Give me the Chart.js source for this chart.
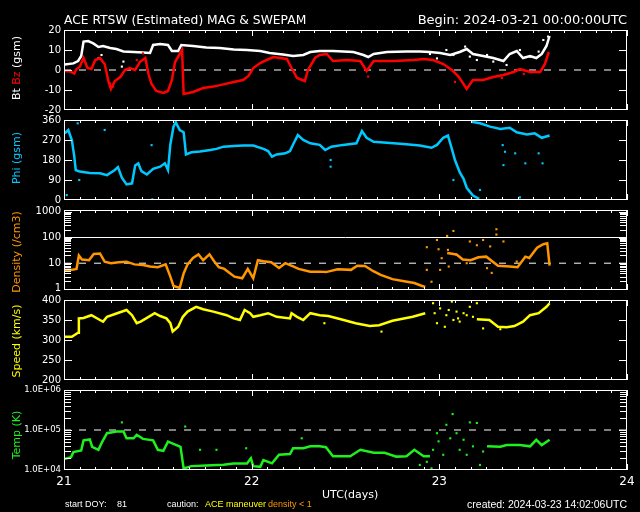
<!DOCTYPE html>
<html>
<head>
<meta charset="utf-8">
<script src="https://cdn.jsdelivr.net/npm/chart.js"></script>
<style>
  body { margin: 0; background: #000; width: 640px; height: 512px; overflow: hidden; position: relative;
         font-family: 'DejaVu Sans', sans-serif; color: #fff; }
  canvas { position: absolute; left: 0; }
  .t { position: absolute; white-space: nowrap; line-height: 0; }
  .yl { position: absolute; left: 16px; line-height: 1; font-size: 11px; white-space: nowrap;
        transform: translate(-50%, -50%) rotate(-90deg); }
  .ft { font-family: 'Liberation Sans', sans-serif; font-size: 9px; }
</style>
</head>
<body>
<canvas id="p1" width="640" height="100" style="top:20px"></canvas>
<canvas id="p2" width="640" height="100" style="top:110px"></canvas>
<canvas id="p3" width="640" height="100" style="top:200px"></canvas>
<canvas id="p4" width="640" height="100" style="top:290px"></canvas>
<canvas id="p5" width="640" height="132" style="top:380px"></canvas>

<div class="t" style="left:64px;top:20px;font-size:12.3px">ACE RTSW (Estimated) MAG &amp; SWEPAM</div>
<div class="t" style="right:13px;top:20px;font-size:13px">Begin: 2024-03-21 00:00:00UTC</div>

<div class="yl" style="top:68px">Bt <span style="color:#ff0000">Bz</span> (gsm)</div>
<div class="yl" style="top:158px;color:#00c8ff">Phi (gsm)</div>
<div class="yl" style="top:252px;color:#ff9600">Density (/cm3)</div>
<div class="yl" style="top:341px;color:#ffff00">Speed (km/s)</div>
<div class="yl" style="top:435px;color:#1ef01e">Temp (K)</div>

<div class="t" style="left:322px;top:495px;font-size:11px">UTC(days)</div>
<div class="t ft" style="left:65px;top:504px">start DOY:</div>
<div class="t ft" style="left:117px;top:504px">81</div>
<div class="t ft" style="left:167px;top:504px">caution:</div>
<div class="t ft" style="left:205px;top:504px;color:#ffff00">ACE maneuver</div>
<div class="t ft" style="left:268px;top:504px;color:#ff9600">density &lt; 1</div>
<div class="t ft" style="right:13px;top:504px;font-size:10.5px">created: 2024-03-23 14:02:06UTC</div>

<script>
// time axis in hours after 2024-03-21 00:00 UTC (DOY 81)
const DAY_TICKS = [0, 24, 48, 72];

// ── Bt / Bz (nT) ───────────────────────────────────────────────────────────
const BT_T = [0.1,1.2,1.8,2.2,2.5,3.1,3.75,4.4,5.0,5.9,6.7,7.6,8.9,10.1,11.0,11.4,12.3,13.3,13.8,14.6,15.0,16.5,18.2,19.9,21.7,23.4,25.1,26.3,28.0,29.3,30.6,31.5,32.7,34.4,37.0,38.3,38.9,39.6,41.3,43.8,45.5,46.8,48.1,49.4,50.6,51.5,52.3,53.6,54.9,56.2,57.0,57.9,58.7,59.6,60.4,61.1,61.7,62.1];
const BT_V = [2.8,3.3,4.5,7,14.2,14.5,13.3,11.5,12,11,10.5,9.3,9,8.8,8.5,12.5,13,12.5,9.5,9.5,12.5,12,11.2,11,10.2,10,9.5,8.5,7.8,7,7.5,9,9.5,9.5,9,7.5,6.5,8,9,9.3,9.3,9,8.5,7.5,9,10.5,8,7,6,4.5,8,9.5,6,7,6,8,12,17];
const BT_XT = [4.4,4.8,7.4,7.6,46.8,47.7,48.9,49.8,51.3,51.9,52.8,54.1,54.9,56.6,58.3,59.6,60.7,61.3,61.9];
const BT_XV = [5.8,7.5,1.7,4.2,8,5.8,10,7.5,11.7,6.7,5,7.5,4.2,2.5,10,6.7,9.2,15,16.7];

const BZ_T = [0.1,0.8,1.3,1.6,2.0,2.5,3.0,3.5,4.0,4.6,5.2,5.7,6.0,6.5,7.2,7.8,8.4,9.1,9.7,10.4,10.8,11.2,11.8,12.7,13.3,13.8,14.2,14.8,15.1,15.3,16.5,17.8,19.1,20.4,21.7,22.9,23.6,24.2,25.1,25.9,26.8,27.6,28.5,29.1,29.8,30.8,31.2,32.1,32.7,33.6,34.4,36.2,37.9,38.7,39.6,42.1,44.7,46.0,47.2,48.5,49.6,50.4,51.1,51.5,52.3,53.6,54.9,56.2,57.5,58.3,59.6,60.9,61.5,62.0];
const BZ_V = [-0.5,-0.7,-1.8,0.5,1.5,6,1,0.5,5,6,3,-6,-9.5,-5.5,-3.5,0,1,0,4,6,-2,-7,-10.5,-11.5,-10.5,-5,4,8,10,-12,-11,-9,-8.3,-7.2,-6,-5,-3,1,3.5,5,6.5,6,5.5,1,-4,-5.5,0,6,7.5,8,4.5,5,4.5,-0.5,4.5,4.5,5,5.5,5,3,0,-3,-7,-9.5,-5,-5,-3.5,-2.5,-1,0.5,-1,-1,3,9];
const BZ_XT = [4.6,5.9,6.3,9.3,10.1,15.2,15.2,38.9,50.0,56.0,58.8];
const BZ_XV = [5.8,-6.7,-8.3,5,8.3,1.7,-3.3,-3.3,-6,-4,-2];

// ── Phi (deg) ──────────────────────────────────────────────────────────────
const PHI_T = [0.1,0.55,1.0,1.3,1.5,2.0,3.3,4.6,5.5,6.5,6.9,7.4,8.0,8.7,9.1,9.5,9.9,10.6,11.4,12.3,12.9,13.3,13.6,14.0,14.3,14.8,15.3,15.6,16.3,17.4,18.7,19.5,20.4,21.7,22.9,24.2,25.5,26.1,26.6,27.2,28.3,28.9,29.3,29.9,30.6,31.5,32.7,33.4,34.2,35.7,37.4,38.1,38.7,39.6,41.3,43.4,45.5,47.0,47.7,48.5,49.1,49.6,50.0,50.6,51.1,51.5,52.3,53.1,53.1,52.1,53.2,54.5,55.8,57.0,57.9,59.2,60.2,61.1,62.1];
const PHI_V = [300,315,270,200,135,128,122,120,112,135,148,100,70,75,155,165,130,115,140,150,165,135,250,330,350,315,305,205,215,218,225,230,240,243,245,245,230,220,195,205,210,220,250,292,270,255,248,225,240,248,255,310,280,262,258,252,245,235,248,280,290,230,180,125,95,55,20,5,null,352,345,330,320,325,305,295,300,280,290];
const PHI_XT = [1.75,5.2,11.2,11.3,0.35,1.95,34.1,34.1,49.8,53.2,56.2,56.4,57.7,59.0,58.3,60.7,61.2,56.1];
const PHI_XV = [345,315,247,3,22,90,180,150,90,45,157,217,210,165,12,210,165,247];

// ── Density (/cm3) ─────────────────────────────────────────────────────────
const DEN_T = [0.1,1.0,1.6,1.9,2.3,3.2,3.8,4.6,5.2,6.0,7.0,8.0,9.0,10.1,11.0,12.0,13.0,13.6,14.0,14.8,15.3,15.8,16.5,17.2,17.8,18.6,19.2,19.8,20.5,21.8,22.8,23.5,24.2,24.8,25.5,26.5,27.5,28.3,29.3,30.0,31.5,32.7,33.5,35.0,36.7,37.5,38.5,39.5,40.5,42.0,43.5,44.8,45.8,46.2,47,49.0,50.2,51.0,52.0,53.0,54.0,55.5,57.0,58.0,59.0,59.5,60.5,61.3,61.8,62.1];
const DEN_V = [5.5,5.5,6,20,14,13,23,24,11.5,10,11,11.5,9,8.5,7.5,7,9,3,1.3,1.1,4,9,16,22,13,22,12,7,6,3,2.6,6,2.6,13,12,11,6.5,10,7.5,6,4.7,4.7,4.5,5.8,5.5,8,7.8,5,3.5,2.4,2,1.7,1.3,1.2,null,25,22,14,13,17,18,8,7.5,7,18,16,40,55,60,8];
const DEN_XT = [47.7,49.0,49.8,55.3,55.3,46.4,47.9,51.9,52.8,53.6,54.5,56.2,47.0,48.1,51.5,54.1,54.7,46.4,48.3,50.2,49.2,57.9,49.1];
const DEN_XV = [80,115,180,210,130,42,35,70,50,80,45,70,1.9,5.5,10,6.4,4.2,5.5,15.7,21,7.4,11.6,33];

// ── Speed (km/s) ───────────────────────────────────────────────────────────
const SPD_T = [0.1,1.0,1.8,1.9,2.5,3.5,4.6,5.0,5.5,6.8,8.0,8.7,9.3,9.8,10.5,11.6,12.3,13.1,13.6,13.9,14.6,15.2,15.8,16.9,17.8,19.1,20.8,21.7,22.5,23.1,23.8,24.2,25.1,26.1,27.2,28.9,29.1,29.8,30.6,31.5,32.7,33.8,35.4,37.3,39.1,40.3,42.0,44.6,46.2,47,52.8,54.4,55.5,56.6,57.6,58.7,59.6,60.7,61.7,62.1];
const SPD_V = [308,308,318,354,355,362,350,346,358,367,375,362,342,346,354,367,360,354,342,321,333,358,371,383,377,371,362,354,350,375,367,358,362,367,358,354,367,358,350,367,362,360,352,342,335,337,348,358,367,null,352,350,333,332,335,346,362,367,383,392];
const SPD_XT = [47.2,48.1,48.9,49.6,50.2,51.1,51.9,52.8,47.7,48.7,49.8,50.4,51.5,52.3,47.4,49.2,50.6,53.6,55.8,40.6,33.3];
const SPD_XV = [392,379,362,396,371,367,383,392,342,333,350,354,362,358,367,375,346,329,327,321,342];

// ── Temperature (K) ────────────────────────────────────────────────────────
const TMP_T = [0.1,0.9,1.2,2.2,2.5,3.3,3.6,4.4,4.8,5.5,6.7,7.6,8.0,8.9,9.3,10.1,11.4,12.0,12.7,13.3,14.0,14.9,15.3,16.3,18.2,20.4,21.7,23.4,23.9,24.2,25.1,25.5,26.6,27.5,28.9,29.3,30.6,31.5,32.7,33.5,34.4,36.6,37.9,39.6,41.0,42.5,43.8,44.8,46.0,46.8,47.5,54.1,55.8,56.6,58.3,59.6,60.4,61.1,62.1];
const TMP_V = [19000,21000,28000,31000,55000,58000,38000,32000,47000,83000,92000,92000,62000,62000,76000,60000,55000,32000,30000,51000,45000,38000,11000,12500,13000,13500,14500,14500,19600,12500,12000,17800,14700,24000,25000,35000,35000,39000,39000,37000,22000,22000,32000,27000,27000,21600,22000,32000,22000,22000,null,39000,38000,42000,42000,39000,57000,42000,57000];
const TMP_XT = [47.2,47.7,48.9,49.7,47.9,48.5,49.4,50.2,51.1,51.9,52.8,52.3,53.2,51.5,50.6,53.6,47.0,45.5,46.4,7.4,15.5,17.4,19.5,23.3,30.4];
const TMP_XV = [32000,83000,135000,250000,52000,24000,62000,83000,57000,155000,150000,39000,13400,24000,32000,29000,11000,13400,16000,155000,122000,32000,32000,35000,62000];

const FONT = "'DejaVu Sans', sans-serif";

// ── Helpers ────────────────────────────────────────────────────────────────

const pts = (t, v) => t.map((x, i) => ({ x, y: v[i] }));

function trace(t, v, color) {
  return { data: pts(t, v), showLine: true, borderColor: color, borderWidth: 2.5,
           pointRadius: 0, spanGaps: false };
}

function dots(t, v, color) {
  return { data: pts(t, v), showLine: false, pointStyle: 'rect', pointRadius: 1.5,
           pointBorderWidth: 0, backgroundColor: color };
}

function refLine(v, dashed) {
  return { data: [{ x: 0, y: v }, { x: 72, y: v }], showLine: true, borderColor: '#fff',
           borderWidth: 1, borderDash: dashed ? [7, 8] : [], pointRadius: 0 };
}

function decades(lo, hi) {
  const out = [];
  for (let d = lo; d < hi; d *= 10) for (let k = 2; k <= 9; k++) out.push(d * k);
  return out;
}

// frame + inward ticks, IDL style
const framePlugin = {
  id: 'frame',
  afterDatasetsDraw(chart, args, opts) {
    const { ctx, chartArea: a, scales: { x, y } } = chart;
    ctx.save();
    ctx.strokeStyle = '#fff';
    ctx.lineWidth = 1;
    ctx.beginPath();
    for (let h = 0; h <= 72; h += 2) {
      const px = Math.round(x.getPixelForValue(h)) + 0.5;
      const len = h % 24 === 0 ? 6 : 3;
      ctx.moveTo(px, a.top); ctx.lineTo(px, a.top + len);
      ctx.moveTo(px, a.bottom); ctx.lineTo(px, a.bottom - len);
    }
    const yt = (v, len) => {
      const py = Math.round(y.getPixelForValue(v)) + 0.5;
      ctx.moveTo(a.left, py); ctx.lineTo(a.left + len, py);
      ctx.moveTo(a.right, py); ctx.lineTo(a.right - len, py);
    };
    opts.major.forEach(v => yt(v, 8));
    (opts.minor || []).forEach(v => yt(v, 7));
    ctx.stroke();
    ctx.strokeRect(a.left + 0.5, a.top + 0.5, a.width - 1, a.height - 1);
    ctx.restore();
  },
};

function yAxis(spec) {
  return Object.assign({
    grid: { display: false, drawTicks: false },
    border: { display: false },
    afterFit: s => { s.width = 64; },
  }, spec, {
    ticks: Object.assign({ color: '#fff', font: { family: FONT, size: 10 }, padding: 3, autoSkip: false },
                         spec.ticks || {}),
  });
}

function xAxis(show) {
  return {
    type: 'linear', min: 0, max: 72, display: show,
    grid: { display: false, drawTicks: false },
    border: { display: false },
    afterBuildTicks: s => { s.ticks = DAY_TICKS.map(v => ({ value: v })); },
    ticks: { color: '#fff', font: { family: FONT, size: 12 }, padding: 5, maxRotation: 0, autoSkip: false,
             callback: v => String(21 + v / 24) },
    afterFit: s => { s.height = show ? 42 : 0; },
  };
}

function makePanel(id, y, datasets, major, minor, last) {
  new Chart(document.getElementById(id), {
    type: 'scatter',
    data: { datasets },
    options: {
      responsive: false, animation: false, events: [],
      layout: { padding: { top: 10, right: 13, bottom: last ? 0 : 10, left: 0 } },
      plugins: { legend: { display: false }, tooltip: { enabled: false }, frame: { major, minor } },
      scales: { x: xAxis(!!last), y },
    },
    plugins: [framePlugin],
  });
}

// ── Panels ─────────────────────────────────────────────────────────────────

makePanel('p1',
  yAxis({ type: 'linear', min: -20, max: 20, ticks: { stepSize: 10 } }),
  [dots(BZ_XT, BZ_XV, '#ff0000'), trace(BZ_T, BZ_V, '#ff0000'),
   dots(BT_XT, BT_XV, '#ffffff'), trace(BT_T, BT_V, '#ffffff'), refLine(0, true)],
  [-10, 0, 10]);

makePanel('p2',
  yAxis({ type: 'linear', min: 0, max: 360, ticks: { stepSize: 90 } }),
  [dots(PHI_XT, PHI_XV, '#00c8ff'), trace(PHI_T, PHI_V, '#00c8ff')],
  [90, 180, 270]);

makePanel('p3',
  yAxis({ type: 'logarithmic', min: 0.906, max: 1176,
          afterBuildTicks: s => { s.ticks = [1, 10, 100, 1000].map(v => ({ value: v })); },
          ticks: { callback: v => String(v) } }),
  [dots(DEN_XT, DEN_XV, '#ff9600'), trace(DEN_T, DEN_V, '#ff9600'),
   refLine(10, true), refLine(100, false)],
  [1, 10, 100, 1000], decades(1, 1000));

makePanel('p4',
  yAxis({ type: 'linear', min: 200, max: 400, ticks: { stepSize: 50 } }),
  [dots(SPD_XT, SPD_XV, '#ffff00'), trace(SPD_T, SPD_V, '#ffff00')],
  [250, 300, 350]);

makePanel('p5',
  yAxis({ type: 'logarithmic', min: 1e4, max: 1e6,
          afterBuildTicks: s => { s.ticks = [1e4, 1e5, 1e6].map(v => ({ value: v })); },
          ticks: { callback: v => '1.0E+0' + Math.round(Math.log10(v)), font: { family: FONT, size: 8.5 } } }),
  [dots(TMP_XT, TMP_XV, '#1ef01e'), trace(TMP_T, TMP_V, '#1ef01e'), refLine(1e5, true)],
  [1e5], decades(1e4, 1e6), true);
</script>
</body>
</html>
